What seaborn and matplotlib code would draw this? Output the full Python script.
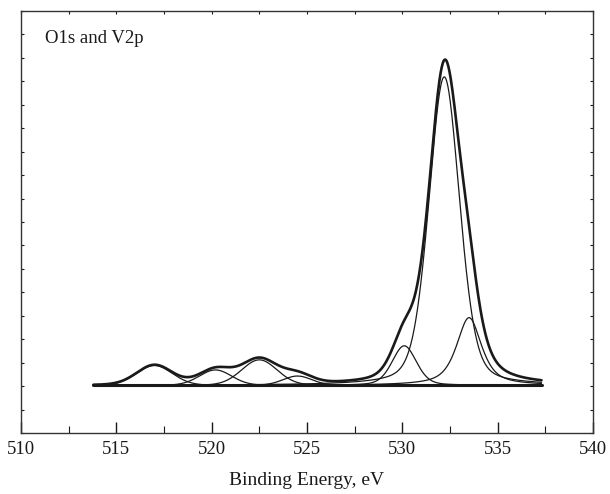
import numpy as np
import pandas as pd
import matplotlib
matplotlib.use("Agg")
import matplotlib.pyplot as plt
import seaborn as sns
from matplotlib.ticker import MultipleLocator, NullFormatter

# ---- data (fitted peak parameters) ----
peak_centers = [517.0, 520.2, 522.5, 524.5, 530.1, 532.2, 533.5]   # eV
peak_heights = [0.85, 0.66, 1.09, 0.40, 1.69, 13.16, 2.89]         # a.u. above baseline
peak_fwhm = [2.2, 2.0, 2.2, 1.8, 1.5, 1.9, 1.55]                   # eV
peak_lorentz = [0.1, 0.1, 0.1, 0.1, 0.3, 0.3, 0.7]                 # Lorentzian fraction
baseline_level = 2.03
energy_start, energy_end = 513.8, 537.3
x_ticks = [510, 515, 520, 525, 530, 535, 540]
panel_label = "O1s and V2p"
x_label = "Binding Energy, eV"

energy = np.linspace(energy_start, energy_end, 800)


def pseudo_voigt(x, c, h, w, eta):
    g = np.exp(-4 * np.log(2) * ((x - c) / w) ** 2)
    lo = 1.0 / (1.0 + 4 * ((x - c) / w) ** 2)
    return h * ((1 - eta) * g + eta * lo)


components = [pseudo_voigt(energy, c, h, w, e)
              for c, h, w, e in zip(peak_centers, peak_heights, peak_fwhm, peak_lorentz)]
envelope = baseline_level + np.sum(components, axis=0)
base = np.full_like(energy, baseline_level)

sns.set_style("ticks")
plt.rcParams["font.family"] = ["Liberation Serif", "DejaVu Serif"]
plt.rcParams["xtick.direction"] = "in"
plt.rcParams["ytick.direction"] = "in"

fig = plt.figure(figsize=(6.10, 4.94), dpi=100)
ax = fig.add_axes([21 / 610, 61 / 494, 572 / 610, 422 / 494])

line_col = "#1a1a1a"
sns.lineplot(x=energy, y=base, ax=ax, color=line_col, lw=2.2)
for comp in components:
    sns.lineplot(x=energy, y=baseline_level + comp, ax=ax, color=line_col, lw=0.9)
sns.lineplot(x=energy, y=envelope, ax=ax, color=line_col, lw=1.9)

ax.set_xlim(510, 540)
ax.set_ylim(0, 18)
ax.set_xticks(x_ticks)
ax.xaxis.set_minor_locator(MultipleLocator(2.5))
ax.yaxis.set_major_locator(MultipleLocator(1))
ax.yaxis.set_major_formatter(NullFormatter())
ax.tick_params(axis="x", which="major", length=8, width=1, labelsize=13.5,
               top=False, pad=6, colors=line_col)
ax.tick_params(axis="x", which="minor", length=5, width=0.8, top=False, colors=line_col)
ax.tick_params(axis="y", which="major", length=2.5, width=0.8, right=True, colors=line_col)
for sp in ax.spines.values():
    sp.set_linewidth(1.0)
    sp.set_color("#333333")

top = ax.secondary_xaxis("top")
top.xaxis.set_major_locator(MultipleLocator(2.5))
top.xaxis.set_major_formatter(NullFormatter())
top.tick_params(axis="x", which="major", direction="in", length=2.5, width=0.8,
                colors=line_col)
top.spines["top"].set_visible(False)

ax.set_xlabel(x_label, fontsize=14, labelpad=10, color=line_col)
ax.set_ylabel("")
ax.text(0.042, 0.935, panel_label, transform=ax.transAxes, fontsize=13.5,
        va="center", ha="left", color=line_col)

fig.savefig("out.png", dpi=100)
